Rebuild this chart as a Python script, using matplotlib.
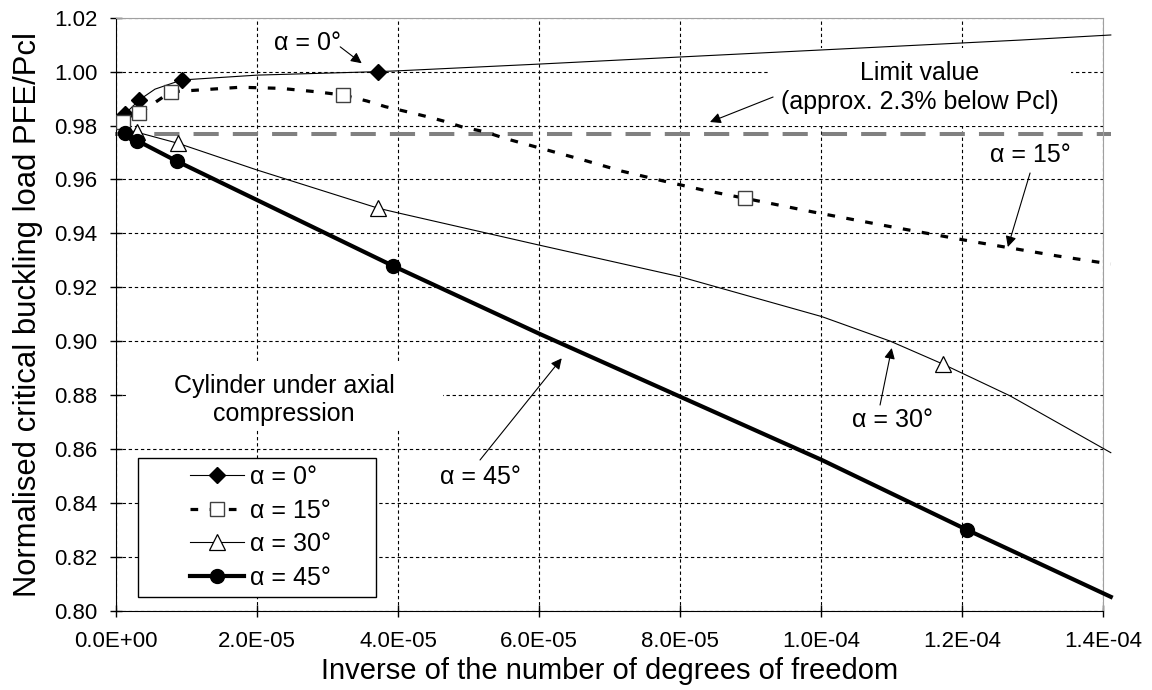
"""
Normalised critical buckling load vs inverse number of degrees of freedom
for a cylinder under axial compression (alpha = 0, 15, 30, 45 deg).
"""

import matplotlib

matplotlib.use("Agg")
import matplotlib.pyplot as plt
from matplotlib.lines import Line2D
from matplotlib.patches import Rectangle
from matplotlib.ticker import FuncFormatter, MultipleLocator

plt.rcParams["font.family"] = ["Liberation Sans", "DejaVu Sans"]

# --- data ------------------------------------------------------------------
# smooth curves (line only)
x_a0 = [1.28e-6, 3.30e-6, 5.53e-6, 9.32e-6, 2.0e-5, 3.72e-5, 4.0e-5, 6.0e-5,
        8.28e-5, 1.282e-4, 1.411e-4]
y_a0 = [0.9843, 0.9895, 0.9935, 0.9969, 0.9987, 1.0000, 1.0003, 1.0028,
        1.0058, 1.0117, 1.0136]

x_a15 = [1.04e-6, 3.26e-6, 7.76e-6, 1.19e-5, 1.76e-5, 2.33e-5, 2.85e-5,
         3.22e-5, 3.56e-5, 3.82e-5, 4.13e-5, 4.38e-5, 4.64e-5, 4.93e-5,
         5.23e-5, 5.52e-5, 6.06e-5, 6.63e-5, 7.17e-5, 7.75e-5, 8.32e-5,
         8.92e-5, 9.89e-5, 1.102e-4, 1.216e-4, 1.335e-4, 1.411e-4]
y_a15 = [0.9814, 0.9845, 0.9925, 0.9932, 0.9942, 0.9938, 0.9925,
         0.9913, 0.9891, 0.9870, 0.9851, 0.9835, 0.9817, 0.9793,
         0.9777, 0.9752, 0.9713, 0.9672, 0.9631, 0.9595, 0.9561,
         0.9530, 0.9479, 0.9423, 0.9369, 0.9316, 0.9286]

x_a30 = [1.0e-6, 3.0e-6, 8.8e-6, 2.0e-5, 3.72e-5, 4.03e-5, 5.99e-5, 8.0e-5,
         1.001e-4, 1.098e-4, 1.1726e-4, 1.268e-4, 1.411e-4]
y_a30 = [0.9787, 0.9775, 0.9734, 0.9635, 0.9493, 0.9474, 0.9357, 0.9239,
         0.9091, 0.9000, 0.8915, 0.8797, 0.8586]

x_a45 = [1.28e-6, 3.0e-6, 8.6e-6, 3.93e-5, 5.99e-5, 8.0e-5, 1.001e-4,
         1.2076e-4, 1.411e-4]
y_a45 = [0.9771, 0.9744, 0.9668, 0.9279, 0.9029, 0.8794, 0.8559,
         0.8299, 0.8051]

# computed points (markers only)
xm_a0 = [1.28e-6, 3.30e-6, 9.32e-6, 3.72e-5]
ym_a0 = [0.9843, 0.9895, 0.9969, 1.0000]
xm_a15 = [1.04e-6, 3.26e-6, 7.76e-6, 3.22e-5, 8.92e-5]
ym_a15 = [0.9814, 0.9845, 0.9925, 0.9913, 0.9530]
xm_a30 = [3.0e-6, 8.8e-6, 3.72e-5, 1.1726e-4]
ym_a30 = [0.9775, 0.9734, 0.9493, 0.8915]
xm_a45 = [1.28e-6, 3.0e-6, 8.6e-6, 3.93e-5, 1.2076e-4]
ym_a45 = [0.9771, 0.9744, 0.9668, 0.9279, 0.8299]

limit_value = 0.977
limit_x = [-2e-7, 1.411e-4]

labels = ["α = 0°", "α = 15°", "α = 30°", "α = 45°"]

fig = plt.figure(figsize=(11.52, 6.9), dpi=100)
fig.subplots_adjust(left=0.1007, right=0.9575, top=0.9743, bottom=0.1151)
ax = fig.add_subplot(111)

ax.set_xlim(0, 1.4e-4)
ax.set_ylim(0.80, 1.02)
ax.xaxis.set_major_locator(MultipleLocator(2e-5))
ax.yaxis.set_major_locator(MultipleLocator(0.02))
ax.xaxis.set_major_formatter(FuncFormatter(lambda v, p: f"{v:.1E}"))
ax.yaxis.set_major_formatter(FuncFormatter(lambda v, p: f"{v:.2f}"))

ax.grid(True, color="black", linewidth=0.8, linestyle=(0, (3, 2.5)), zorder=0)
ax.set_axisbelow(True)
ax.tick_params(direction="inout", length=9, width=1, labelsize=16)
ax.tick_params(axis="x", pad=10)
ax.tick_params(axis="y", pad=9)

for side in ("top", "right"):
    ax.spines[side].set_color("#a0a0a0")
for side in ("left", "bottom"):
    ax.spines[side].set_color("black")

# limit line
ax.plot(limit_x, [limit_value, limit_value], color="#808080", linewidth=2.9,
        linestyle=(0, (6.25, 3.5)), clip_on=False, zorder=2)

# curves
ax.plot(x_a0, y_a0, color="black", linewidth=0.8, clip_on=False, zorder=3)
ax.plot(x_a15, y_a15, color="black", linewidth=2.3,
        linestyle=(0, (2.4, 3.6)), clip_on=False, zorder=3)
ax.plot(x_a30, y_a30, color="black", linewidth=0.8, clip_on=False, zorder=3)
ax.plot(x_a45, y_a45, color="black", linewidth=3.0, clip_on=False, zorder=3)

# markers
ax.plot(xm_a0, ym_a0, linestyle="none", marker="D", markersize=8.5,
        color="black", zorder=5)
ax.plot(xm_a15, ym_a15, linestyle="none", marker="s", markersize=9.5,
        markerfacecolor="white", markeredgecolor="#404040",
        markeredgewidth=1.0, zorder=5)
ax.plot(xm_a30, ym_a30, linestyle="none", marker="^", markersize=11,
        markerfacecolor="white", markeredgecolor="black",
        markeredgewidth=0.9, zorder=5)
ax.plot(xm_a45, ym_a45, linestyle="none", marker="o", markersize=10,
        color="black", zorder=5)

# annotations
arrow = dict(arrowstyle="-|>", color="black", lw=0.8, mutation_scale=16,
             shrinkA=0, shrinkB=0)
ax.annotate("", xy=(3.485e-5, 1.0031), xytext=(3.18e-5, 1.0092),
            arrowprops=arrow, zorder=6)
ax.text(2.71e-5, 1.0106, labels[0], fontsize=18, ha="center", va="center",
        zorder=6)

ax.text(1.1404e-4, 0.99417, "Limit value\n(approx. 2.3% below Pcl)",
        fontsize=18, ha="center", va="center", linespacing=1.25, zorder=1.5,
        bbox=dict(facecolor="white", edgecolor="none", pad=9))
ax.annotate("", xy=(8.425e-5, 0.9813), xytext=(9.32e-5, 0.99058),
            arrowprops=arrow, zorder=6)

ax.text(1.2965e-4, 0.96905, labels[1], fontsize=18, ha="center",
        va="center", zorder=6)
ax.annotate("", xy=(1.265e-4, 0.93492), xytext=(1.2965e-4, 0.96238),
            arrowprops=arrow, zorder=6)

ax.text(1.102e-4, 0.87072, labels[2], fontsize=18, ha="center",
        va="center", zorder=6)
ax.annotate("", xy=(1.1003e-4, 0.89744), xytext=(1.0837e-4, 0.87628),
            arrowprops=arrow, zorder=6)

ax.text(5.163e-5, 0.84958, labels[3], fontsize=18, ha="center",
        va="center", zorder=6)
ax.annotate("", xy=(6.322e-5, 0.89362), xytext=(5.163e-5, 0.85588),
            arrowprops=arrow, zorder=6)

# cylinder text box
ax.add_patch(Rectangle((0.0101, 0.3046), 0.3212, 0.113, transform=ax.transAxes,
                       facecolor="white", edgecolor="none", zorder=1))
ax.text(2.383e-5, 0.8781, "Cylinder under axial\ncompression", fontsize=18,
        ha="center", va="center", linespacing=1.25, zorder=6)

# legend
ax.add_patch(Rectangle((0.0226, 0.0234), 0.2405, 0.2335, transform=ax.transAxes,
                       facecolor="white", edgecolor="black", linewidth=1.0,
                       zorder=6))
handles = [
    Line2D([], [], color="black", linewidth=0.8, marker="D", markersize=8.5),
    Line2D([], [], color="black", linewidth=2.3, linestyle=(0, (2.4, 3.6)),
           marker="s", markersize=9.5, markerfacecolor="white",
           markeredgecolor="#404040", markeredgewidth=1.0),
    Line2D([], [], color="black", linewidth=0.8, marker="^", markersize=11,
           markerfacecolor="white", markeredgecolor="black",
           markeredgewidth=0.9),
    Line2D([], [], color="black", linewidth=3.0, marker="o", markersize=10),
]
leg = ax.legend(handles, labels, loc="center left",
                bbox_to_anchor=(0.075, 0.1402), frameon=False, fontsize=18,
                handlelength=2.15, handletextpad=0.25, labelspacing=0.38,
                borderpad=0, borderaxespad=0)
leg.set_zorder(7)

ax.set_xlabel("Inverse of the number of degrees of freedom", fontsize=21,
              labelpad=4)
ax.set_ylabel("Normalised critical buckling load PFE/Pcl", fontsize=22.3,
              labelpad=8)

fig.savefig("out.png", dpi=100)
